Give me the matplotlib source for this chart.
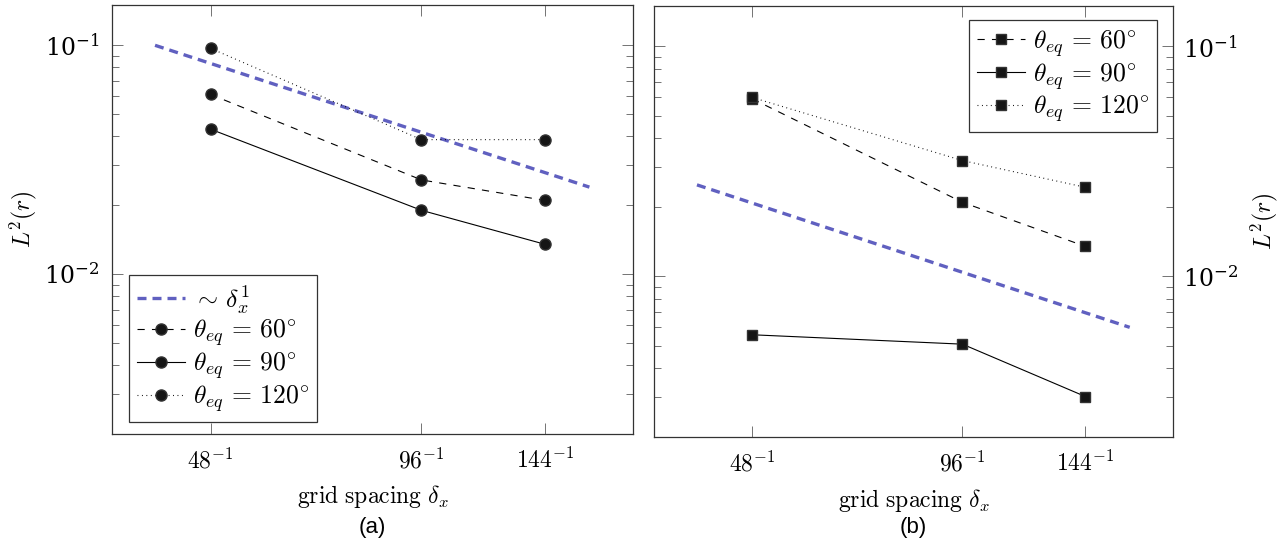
import matplotlib
matplotlib.use("Agg")
import matplotlib.pyplot as plt
from matplotlib.ticker import FixedLocator, LogLocator, NullLocator, NullFormatter

plt.rcParams['mathtext.fontset'] = 'cm'
plt.rcParams['font.family'] = ['DejaVu Serif']

# grid resolutions and spacing
N = [48, 96, 144]
dx = [1 / n for n in N]
xtick_labels = [r'$48^{-1}$', r'$96^{-1}$', r'$144^{-1}$']

# (a) circles
a_60 = [0.061, 0.0258, 0.021]
a_90 = [0.043, 0.019, 0.0135]
a_120 = [0.097, 0.0387, 0.0387]

# (b) squares
b_60 = [0.0592, 0.0210, 0.0135]
b_90 = [0.00557, 0.00507, 0.0030]
b_120 = [0.0600, 0.0319, 0.0244]

# first order reference lines
ref_dx = [0.025, 0.006]
ref_a = [0.1, 0.024]
ref_b = [0.025, 0.006]

labels = [r'$\theta_{eq}\,=\,60^{\circ}$', r'$\theta_{eq}\,=\,90^{\circ}$',
          r'$\theta_{eq}\,=\,120^{\circ}$']

blue = '#6060c0'
FS = 17
LFS = 18.5


def style_axis(ax, right=False):
    ax.set_xscale('log')
    ax.set_yscale('log')
    ax.set_xlim(0.0288, 0.0052)
    ax.set_ylim(0.002, 0.15)
    ax.xaxis.set_major_locator(FixedLocator(dx))
    ax.set_xticklabels(xtick_labels)
    ax.xaxis.set_minor_locator(NullLocator())
    ax.yaxis.set_major_locator(LogLocator(base=10))
    ax.yaxis.set_minor_locator(LogLocator(base=10, subs=range(2, 10)))
    ax.yaxis.set_minor_formatter(NullFormatter())
    ax.tick_params(which='both', direction='in', top=True, right=True,
                   color='0.45', width=0.7)
    ax.tick_params(which='major', length=8, labelsize=FS)
    ax.tick_params(which='minor', length=5)
    ax.tick_params(axis='x', pad=10)
    if right:
        ax.yaxis.tick_right()
        ax.tick_params(which='both', left=True, right=True, direction='in')
        ax.tick_params(axis='y', pad=7)
        ax.yaxis.set_label_position('right')
    else:
        ax.tick_params(axis='y', pad=9)
    for s in ax.spines.values():
        s.set_color('0.2')
        s.set_linewidth(0.9)


def make_legend(ax, loc, anchor):
    leg = ax.legend(loc=loc, bbox_to_anchor=anchor, borderaxespad=0,
                    fontsize=LFS, frameon=True, fancybox=False,
                    edgecolor='0.2', framealpha=1, handlelength=1.9,
                    handletextpad=0.3, labelspacing=0.08, borderpad=0.3)
    leg.get_frame().set_linewidth(0.9)
    return leg


fig = plt.figure(figsize=(12.87, 5.46), dpi=100)
ax1 = fig.add_axes([0.0870, 0.2051, 0.4048, 0.7857])
ax2 = fig.add_axes([0.5082, 0.1996, 0.4033, 0.7894])

lk = dict(color='black', lw=0.8, markerfacecolor='#151515', markeredgecolor='#333333')

# panel (a)
ax1.plot(ref_dx, ref_a, color=blue, lw=2.4, dashes=(2.7, 1.8), label=r'$\sim\,\delta_x^1$')
ax1.plot(dx, a_60, marker='o', ms=8, dashes=(6.5, 6.5), label=labels[0], **lk)
ax1.plot(dx, a_90, marker='o', ms=8, ls='-', label=labels[1], **lk)
ax1.plot(dx, a_120, marker='o', ms=8, dashes=(0.8, 3.2), label=labels[2], **lk)
style_axis(ax1)
ax1.set_ylabel(r'$L^2(r)$', fontsize=FS)
ax1.yaxis.set_label_coords(-0.14, 0.5)
ax1.set_xlabel(r'$\mathrm{grid\ spacing}\ \delta_x$', fontsize=FS)
ax1.xaxis.set_label_coords(0.5, -0.115)
make_legend(ax1, 'lower left', (17 / 521, 12 / 429))

# panel (b)
ax2.plot(ref_dx, ref_b, color=blue, lw=2.4, dashes=(2.7, 1.8))
ax2.plot(dx, b_60, marker='s', ms=7.8, dashes=(6.5, 6.5), label=labels[0], **lk)
ax2.plot(dx, b_90, marker='s', ms=7.8, ls='-', label=labels[1], **lk)
ax2.plot(dx, b_120, marker='s', ms=7.8, dashes=(0.8, 3.2), label=labels[2], **lk)
style_axis(ax2, right=True)
ax2.set_ylabel(r'$L^2(r)$', fontsize=FS, rotation=90)
ax2.yaxis.set_label_coords(1.146, 0.5)
ax2.set_xlabel(r'$\mathrm{grid\ spacing}\ \delta_x$', fontsize=FS)
ax2.xaxis.set_label_coords(0.5, -0.115)
make_legend(ax2, 'upper right', (1 - 16 / 519, 1 - 14 / 431))

fig.text(372 / 1287, 1 - 528 / 546, '(a)', family='Liberation Sans', fontsize=16,
         ha='center', va='center')
fig.text(913 / 1287, 1 - 528 / 546, '(b)', family='Liberation Sans', fontsize=16,
         ha='center', va='center')

fig.savefig('out.png', dpi=100)
